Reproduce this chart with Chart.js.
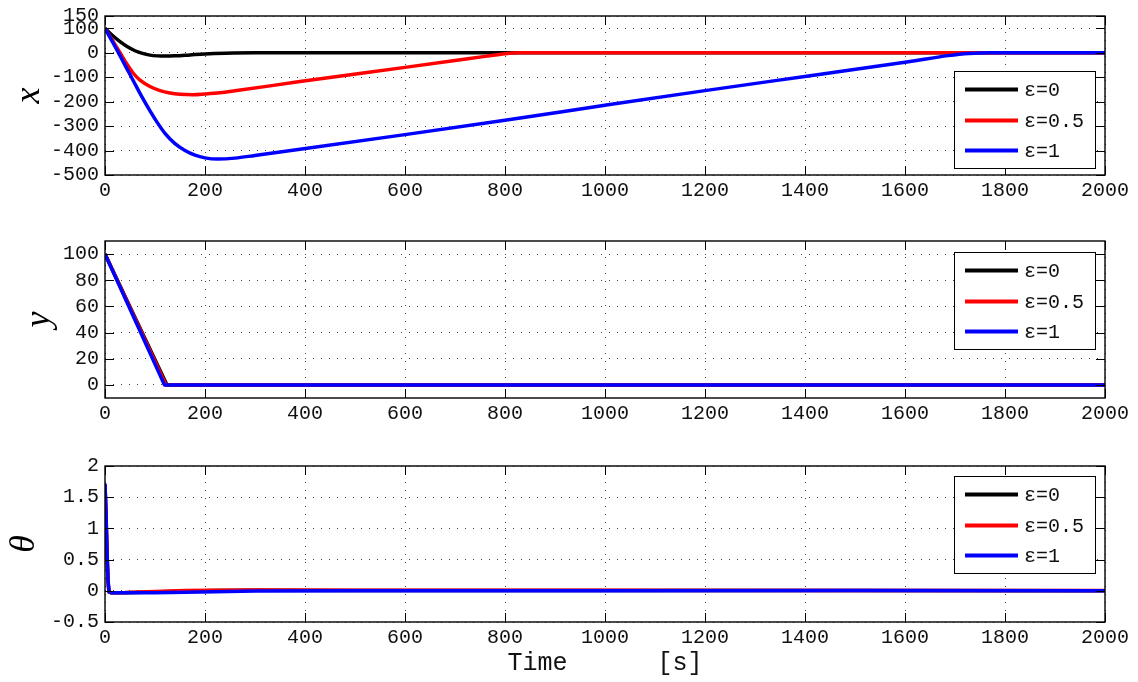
<!DOCTYPE html>
<html>
<head>
<meta charset="utf-8">
<script src="https://cdn.jsdelivr.net/npm/chart.js@4.4.0/dist/chart.umd.min.js"></script>
<style>
  html, body { margin: 0; padding: 0; background: #ffffff; }
  #wrap { position: relative; width: 1138px; height: 682px; overflow: hidden; background: #ffffff; }
  #wrap canvas { position: absolute; left: 0; }
</style>
</head>
<body>
<div id="wrap">
  <canvas id="panelX" width="1138" height="215" style="top:0px"></canvas>
  <canvas id="panelY" width="1138" height="213" style="top:225px"></canvas>
  <canvas id="panelT" width="1138" height="232" style="top:450px"></canvas>
</div>
<script>
// ---- series identity ----
const seriesLabels = ['ε=0', 'ε=0.5', 'ε=1'];
const seriesColors = ['#000000', '#ff0000', '#0000ff'];

// ---- shared time axis ----
const timeTicks = [0, 200, 400, 600, 800, 1000, 1200, 1400, 1600, 1800, 2000];

// ---- x(t) ----
const xTicks = [-500, -400, -300, -200, -100, 0, 100, 150];
const xTimeE0 = [0, 15, 30, 45, 60, 75, 90, 105, 120, 140, 170, 200, 240, 300, 2000];
const xValE0  = [100, 70, 45, 24, 8, -3, -10, -13, -14, -13, -9, -5, -2, 0, 0];
const xTimeE05 = [0, 15, 30, 45, 57, 70, 90, 110, 130, 150, 175, 200, 230, 260, 390, 600, 700, 760, 800, 830, 2000];
const xValE05  = [100, 50, 0, -50, -85, -112, -138, -155, -165, -170, -172, -169, -164, -156, -118, -60, -32, -15, -4, 0, 0];
const xTimeE1 = [0, 15, 30, 45, 60, 75, 90, 105, 120, 140, 160, 180, 200, 225, 260, 300, 390, 600, 800, 1000, 1200, 1407, 1607, 1686, 1728, 1770, 2000];
const xValE1  = [100, 44, -12, -70, -128, -185, -238, -287, -330, -372, -400, -419, -430, -435, -431, -420, -395, -335, -276, -215, -155, -95, -37, -12, -3, 0, 0];

// ---- y(t) ----
const yTicks = [0, 20, 40, 60, 80, 100];
const yTimeE0 = [0, 124, 2000];
const yValE0  = [100, 0, 0];
const yTimeE05 = [0, 122, 2000];
const yValE05  = [100, 0, 0];
const yTimeE1 = [0, 119, 2000];
const yValE1  = [100, 0, 0];

// ---- theta(t) ----
const tTicks = [-0.5, 0, 0.5, 1, 1.5, 2];
const tTimeE0 = [0, 2, 4, 6, 8, 12, 40, 100, 160, 220, 300, 500, 1000, 1500, 2000];
const tValE0  = [1.70, 1.2, 0.6, 0.15, -0.02, -0.03, -0.03, -0.02, -0.005, 0.005, 0.008, 0.006, 0.004, 0.004, 0.002];
const tTimeE05 = [0, 2, 4, 6, 8, 12, 40, 100, 160, 220, 300, 500, 1000, 1500, 2000];
const tValE05  = [1.70, 1.2, 0.6, 0.15, -0.02, -0.03, -0.028, -0.012, 0.005, 0.01, 0.012, 0.01, 0.007, 0.006, 0.004];
const tTimeE1 = [0, 2, 4, 6, 8, 12, 40, 100, 160, 220, 300, 500, 1000, 1500, 2000];
const tValE1  = [1.72, 1.25, 0.65, 0.18, -0.01, -0.03, -0.032, -0.03, -0.025, -0.015, -0.005, 0, 0.002, 0.003, 0.002];

const zip = (ts, vs) => ts.map((t, i) => ({ x: t, y: vs[i] }));

const TICK_FONT = { family: 'Liberation Mono', size: 20, lineHeight: 1 };
const INNER_TICK = 9;

// box around the axes with inward tick marks on all four sides, plus the legend
const framePlugin = {
  id: 'frameAndLegend',
  afterDatasetsDraw(chart) {
    const { ctx, chartArea: a, scales } = chart;
    ctx.save();
    ctx.strokeStyle = '#000';
    ctx.lineWidth = 1;
    ctx.beginPath();
    scales.x.ticks.forEach(t => {
      const px = Math.round(scales.x.getPixelForValue(t.value)) + 0.5;
      ctx.moveTo(px, a.bottom); ctx.lineTo(px, a.bottom - INNER_TICK);
      ctx.moveTo(px, a.top); ctx.lineTo(px, a.top + INNER_TICK);
    });
    scales.y.ticks.forEach(t => {
      const py = Math.round(scales.y.getPixelForValue(t.value)) + 0.5;
      ctx.moveTo(a.left, py); ctx.lineTo(a.left + INNER_TICK, py);
      ctx.moveTo(a.right, py); ctx.lineTo(a.right - INNER_TICK, py);
    });
    ctx.stroke();
    ctx.lineWidth = 1.4;
    ctx.strokeRect(a.left, a.top, a.right - a.left, a.bottom - a.top);
    ctx.restore();
  },
  afterDraw(chart, args, opts) {
    const { ctx, chartArea: a } = chart;
    const w = 141, h = 97;
    const bx = a.right - 10 - w;
    const by = a.top + opts.offsetTop;
    ctx.save();
    ctx.fillStyle = '#fff';
    ctx.fillRect(bx, by, w, h);
    ctx.strokeStyle = '#000';
    ctx.lineWidth = 1;
    ctx.strokeRect(bx + 0.5, by + 0.5, w, h);
    const rows = [18, 49, 79];
    ctx.font = '20px "Liberation Mono"';
    ctx.textBaseline = 'middle';
    ctx.textAlign = 'left';
    chart.data.datasets.forEach((ds, i) => {
      const ry = by + rows[i] + 0.5;
      ctx.strokeStyle = ds.borderColor;
      ctx.lineWidth = 4;
      ctx.beginPath();
      ctx.moveTo(bx + 11, ry); ctx.lineTo(bx + 64, ry);
      ctx.stroke();
      ctx.fillStyle = '#111';
      ctx.fillText(ds.label, bx + 70, ry + 1);
    });
    ctx.restore();
  }
};

function makeDatasets(pairs, smooth) {
  return pairs.map((p, i) => ({
    label: seriesLabels[i],
    data: zip(p[0], p[1]),
    borderColor: seriesColors[i],
    backgroundColor: seriesColors[i],
    borderWidth: 3.5,
    pointRadius: 0,
    fill: false,
    tension: 0,
    cubicInterpolationMode: smooth ? 'monotone' : 'default',
    borderJoinStyle: 'round',
    order: 2 - i
  }));
}

function makeChart(id, cfg) {
  return new Chart(document.getElementById(id), {
    type: 'line',
    data: { datasets: makeDatasets(cfg.pairs, cfg.smooth) },
    plugins: [framePlugin],
    options: {
      responsive: false,
      animation: false,
      events: [],
      layout: { padding: { top: cfg.padTop, right: 33, left: 0, bottom: 0 } },
      plugins: {
        legend: { display: false },
        tooltip: { enabled: false },
        frameAndLegend: { offsetTop: cfg.legendTop }
      },
      scales: {
        x: {
          type: 'linear',
          min: 0, max: 2000,
          afterBuildTicks: s => { s.ticks = timeTicks.map(v => ({ value: v })); },
          afterFit: s => { s.height = cfg.xHeight; },
          ticks: { font: TICK_FONT, color: '#111', padding: 6, maxRotation: 0, autoSkip: false,
                   callback: v => String(v) },
          grid: { color: '#444', lineWidth: 1, drawTicks: false },
          border: { display: false, dash: [1, 7] },
          title: cfg.xTitle ? {
            display: true, text: 'Time      [s]', color: '#111',
            font: { family: 'Liberation Mono', size: 25, lineHeight: 1 },
            padding: { top: 0, bottom: 6 }
          } : { display: false }
        },
        y: {
          type: 'linear',
          min: cfg.yMin, max: cfg.yMax,
          afterBuildTicks: s => { s.ticks = cfg.yTicks.map(v => ({ value: v })); },
          afterFit: s => { s.width = 105; },
          ticks: { font: TICK_FONT, color: '#111', padding: 6, autoSkip: false,
                   callback: v => String(v) },
          grid: { color: '#444', lineWidth: 1, drawTicks: false },
          border: { display: false, dash: [1, 7] },
          title: {
            display: true, text: cfg.yTitle, color: '#000',
            font: { family: 'Liberation Serif', style: 'italic', size: 36, lineHeight: 1 },
            padding: { top: cfg.yTitlePad, bottom: 0 }
          }
        }
      }
    }
  });
}

makeChart('panelX', {
  pairs: [[xTimeE0, xValE0], [xTimeE05, xValE05], [xTimeE1, xValE1]], smooth: true,
  padTop: 13, xHeight: 40, yMin: -500, yMax: 150, yTicks: xTicks,
  yTitle: 'x', yTitlePad: 12, legendTop: 55, xTitle: false
});
makeChart('panelY', {
  pairs: [[yTimeE0, yValE0], [yTimeE05, yValE05], [yTimeE1, yValE1]], smooth: false,
  padTop: 12, xHeight: 40, yMin: -10, yMax: 110, yTicks: yTicks,
  yTitle: 'y', yTitlePad: 22, legendTop: 11, xTitle: false
});
makeChart('panelT', {
  pairs: [[tTimeE0, tValE0], [tTimeE05, tValE05], [tTimeE1, tValE1]], smooth: false,
  padTop: 12, xHeight: 60, yMin: -0.5, yMax: 2, yTicks: tTicks,
  yTitle: 'θ', yTitlePad: 7, legendTop: 10, xTitle: true
});
</script>
</body>
</html>
